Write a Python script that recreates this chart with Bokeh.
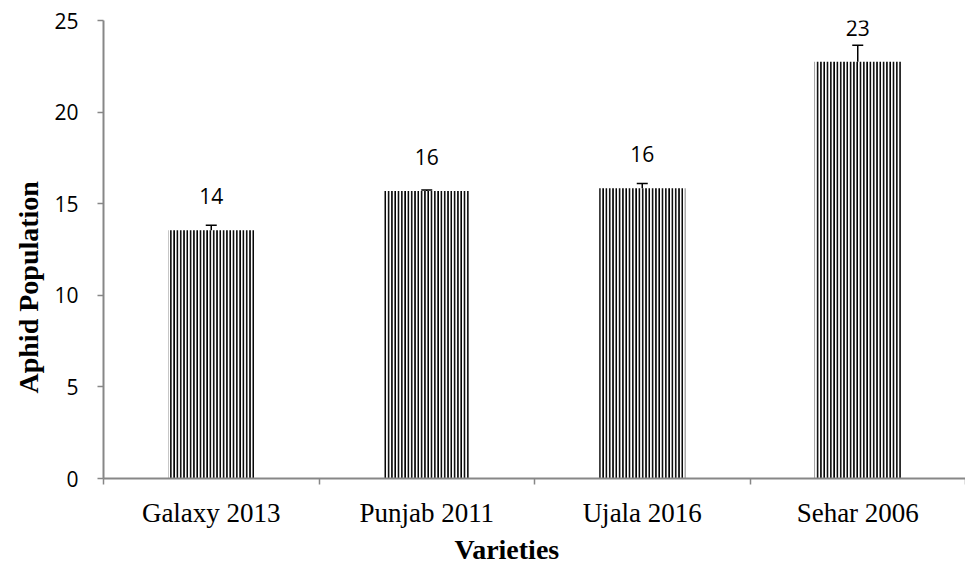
from bokeh.plotting import figure
from bokeh.models import (ColumnDataSource, Range1d, FixedTicker, Whisker, TeeHead,
                          LabelSet, Title)
from bokeh.core.properties import value
from bokeh.embed import file_html
from bokeh.resources import INLINE

categories = ["Galaxy 2013", "Punjab 2011", "Ujala 2016", "Sehar 2006"]
means = [13.55, 15.7, 15.85, 22.75]
errors = [0.27, 0.05, 0.25, 0.9]
labels = ["14", "16", "16", "23"]
y_ticks = [0, 5, 10, 15, 20, 25]

xs = [i + 0.5 for i in range(len(categories))]
src = ColumnDataSource(dict(
    x=xs, top=means,
    upper=[m + e for m, e in zip(means, errors)],
    lower=[m - e for m, e in zip(means, errors)],
    lab=labels,
))

AXIS = "#878787"
SANS = "Open Sans"
SERIF = "Liberation Serif"

p = figure(width=965, height=566, output_backend="svg", toolbar_location=None,
           x_range=Range1d(0, len(categories)), y_range=Range1d(0, 25),
           min_border_left=103, min_border_top=20, min_border_right=0,
           min_border_bottom=88)
p.outline_line_color = None
p.xgrid.visible = False
p.ygrid.visible = False
p.background_fill_color = "white"
p.border_fill_color = "white"

p.vbar(x="x", top="top", bottom=0, width=0.4, source=src,
       fill_color="white", line_color=None,
       hatch_pattern="vertical_line", hatch_color="black",
       hatch_scale=3.3, hatch_weight=1.8)

p.add_layout(Whisker(source=src, base="x", upper="upper", lower="lower",
                     line_color="black", line_width=1.5,
                     upper_head=TeeHead(size=11, line_color="black", line_width=1.5),
                     lower_head=TeeHead(size=11, line_color="black", line_width=1.5)))

p.add_layout(LabelSet(source=src, x="x", y="top", text="lab", y_offset=34,
                      text_align="center", text_baseline="middle",
                      text_font=value(SANS), text_font_size="21px", text_color="black"))

# x axis
xa = p.xaxis[0]
xa.ticker = FixedTicker(ticks=xs, minor_ticks=list(range(len(categories) + 1)))
xa.major_label_overrides = {x: c for x, c in zip(xs, categories)}
xa.major_tick_out = 0
xa.major_tick_in = 0
xa.minor_tick_out = 6
xa.minor_tick_in = 0
xa.minor_tick_line_color = AXIS
xa.minor_tick_line_width = 1.5
xa.axis_line_color = AXIS
xa.axis_line_width = 2
xa.major_label_text_font = SERIF
xa.major_label_text_font_size = "27px"
xa.major_label_text_color = "black"
xa.major_label_standoff = 13

# y axis
ya = p.yaxis[0]
ya.ticker = FixedTicker(ticks=y_ticks, minor_ticks=[])
ya.major_tick_out = 6
ya.major_tick_in = 0
ya.major_tick_line_color = AXIS
ya.major_tick_line_width = 1.5
ya.axis_line_color = AXIS
ya.axis_line_width = 2
ya.major_label_text_font = SANS
ya.major_label_text_font_size = "21px"
ya.major_label_text_color = "black"
ya.major_label_standoff = 19

p.add_layout(Title(text="Aphid Population", align="left", offset=85,
                   vertical_align="top",
                   text_font=SERIF, text_font_style="bold",
                   text_font_size="28px", text_color="black",
                   standoff=11), "left")

p.add_layout(Title(text="Varieties", align="left", offset=351,
                   text_font=SERIF, text_font_style="bold",
                   text_font_size="28px", text_color="black",
                   standoff=3), "below")

open("out.html", "w").write(file_html(p, INLINE))
